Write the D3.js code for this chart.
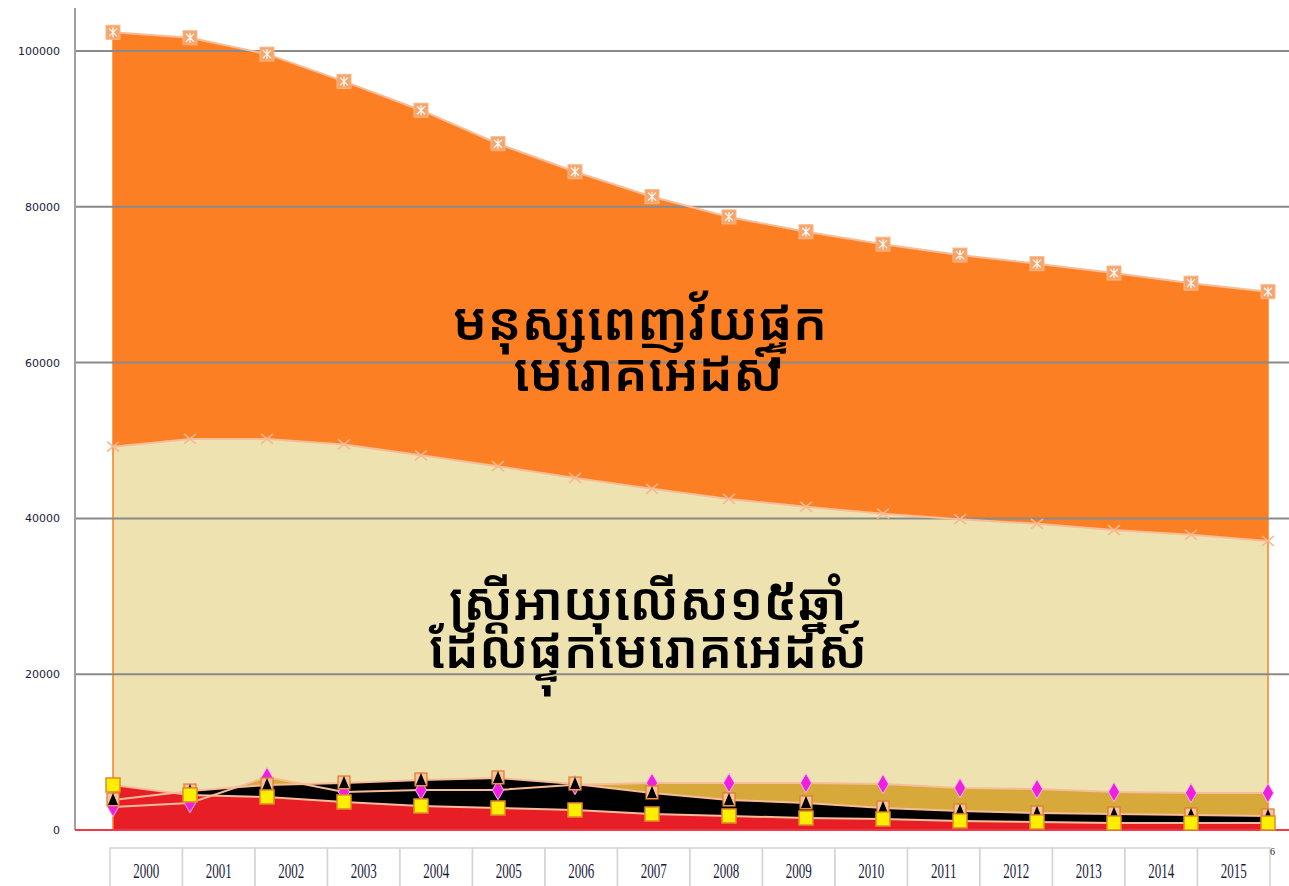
<!DOCTYPE html>
<html>
<head>
<meta charset="utf-8">
<script src="https://cdn.jsdelivr.net/npm/d3@7"></script>
<style>
  html, body { margin: 0; padding: 0; background: #fff; }
  svg { display: block; }
  .ytick text { font-family: "DejaVu Sans", sans-serif; font-size: 11px; fill: #1a1a3a; }
  .xlab { font-family: "Liberation Serif", serif; font-size: 21px; fill: #1a1a3a; }
  .note { font-family: "Noto Sans Khmer", "Khmer OS", "Khmer OS System", "Noto Serif Khmer", sans-serif; font-size: 52px; font-weight: 600; fill: #000; }
</style>
</head>
<body>
<svg id="chart" width="1289" height="886"></svg>
<script>
const years = d3.range(2000, 2016);
const yTicks = [0, 20000, 40000, 60000, 80000, 100000];

// adults living with HIV (orange)
const adults = [102400, 101700, 99600, 96100, 92400, 88100, 84500, 81300, 78700, 76800, 75200, 73800, 72700, 71500, 70200, 69100];
// women 15+ living with HIV (beige)
const women = [49200, 50200, 50200, 49500, 48100, 46700, 45200, 43800, 42500, 41500, 40600, 39900, 39300, 38500, 37900, 37100];
// goldenrod series, pink diamonds
const seriesDiamond = [2950, 3470, 6800, 4880, 5130, 5130, 5800, 6030, 6030, 6030, 5900, 5390, 5260, 4880, 4750, 4750];
// black series, triangles
const seriesTriangle = [3850, 5000, 5780, 6030, 6420, 6680, 5900, 4750, 3850, 3470, 2820, 2440, 2180, 2050, 1930, 1800];
// red series, yellow squares
const seriesSquare = [5780, 4500, 4240, 3600, 3080, 2820, 2570, 2050, 1800, 1540, 1410, 1160, 1030, 900, 900, 900];

const svg = d3.select('#chart');
const width = 1289;
const margin = { top: 8, left: 75 };

const x = d3.scalePoint().domain(years).range([113, 1268]);
const y = d3.scaleLinear().domain([0, 100000]).range([830, 51]);

// category boxes under the plot (label band a bit narrower than the point spacing)
const xb = d3.scaleBand().domain(years).range([110, 1270]);

const series = [
  { values: adults, fill: '#fd7f23', marker: 'asterisk' },
  { values: women, fill: '#ede2b0', marker: 'cross' },
  { values: seriesDiamond, fill: '#d6a93a', marker: 'diamond' },
  { values: seriesTriangle, fill: '#000000', marker: 'triangle' },
  { values: seriesSquare, fill: '#e81e26', marker: 'square' }
];

const area = d3.area()
  .x((d, i) => x(years[i]))
  .y0(y(0))
  .y1((d) => y(d));
const line = d3.line()
  .x((d, i) => x(years[i]))
  .y((d) => y(d));

const areasG = svg.append('g');
series.forEach((s) => {
  areasG.append('path').datum(s.values).attr('d', area).attr('fill', s.fill);
});

// vertical orange edges of the big area
const edgeG = svg.append('g');
[0, years.length - 1].forEach((i) => {
  edgeG.append('line')
    .attr('x1', x(years[i])).attr('x2', x(years[i]))
    .attr('y1', y(adults[i])).attr('y2', y(0))
    .attr('stroke', '#fd7f23').attr('stroke-width', 1.5);
});

// grid + y axis
const gridG = svg.append('g');
yTicks.filter((t) => t > 0).forEach((t) => {
  gridG.append('line')
    .attr('x1', margin.left).attr('x2', width)
    .attr('y1', y(t)).attr('y2', y(t))
    .attr('stroke', '#8a8a8a').attr('stroke-width', 2);
});
gridG.append('line')
  .attr('x1', margin.left).attr('x2', margin.left)
  .attr('y1', margin.top).attr('y2', y(0))
  .attr('stroke', '#a0a0a0').attr('stroke-width', 2);
gridG.append('line')
  .attr('x1', margin.left).attr('x2', width)
  .attr('y1', y(0)).attr('y2', y(0))
  .attr('stroke', '#ee3a48').attr('stroke-width', 2);

const yAxisG = svg.append('g').attr('class', 'ytick');
yAxisG.selectAll('text')
  .data(yTicks)
  .join('text')
  .attr('x', 60)
  .attr('y', (d) => y(d) + 4)
  .attr('text-anchor', 'end')
  .text((d) => d);

// edge lines
const linesG = svg.append('g');
series.forEach((s) => {
  linesG.append('path').datum(s.values).attr('d', line)
    .attr('fill', 'none').attr('stroke', '#f6bd98').attr('stroke-width', 2);
});

// markers
const markG = svg.append('g');
function drawMarker(g, kind, cx, cy) {
  if (kind === 'asterisk') {
    g.append('rect').attr('x', cx - 7).attr('y', cy - 7).attr('width', 14).attr('height', 14)
      .attr('fill', '#f8a46a').attr('stroke', '#f6b888');
    const p = `M${cx - 4},${cy - 4}L${cx + 4},${cy + 4}M${cx + 4},${cy - 4}L${cx - 4},${cy + 4}M${cx},${cy - 5}L${cx},${cy + 5}`;
    g.append('path').attr('d', p).attr('stroke', '#fff').attr('stroke-width', 1.2).attr('fill', 'none');
  } else if (kind === 'cross') {
    const p = `M${cx - 6},${cy - 5}L${cx + 6},${cy + 5}M${cx + 6},${cy - 5}L${cx - 6},${cy + 5}`;
    g.append('path').attr('d', p).attr('stroke', '#f8b890').attr('stroke-width', 1.6).attr('fill', 'none');
  } else if (kind === 'diamond') {
    g.append('path').attr('d', d3.symbol(d3.symbolDiamond, 110)())
      .attr('transform', `translate(${cx},${cy})`)
      .attr('fill', '#f020e0').attr('stroke', '#f8c0e8').attr('stroke-width', 1);
  } else if (kind === 'triangle') {
    g.append('rect').attr('x', cx - 6).attr('y', cy - 7).attr('width', 12).attr('height', 13)
      .attr('fill', '#f8c39a').attr('stroke', '#e07a2a').attr('stroke-width', 1.2);
    g.append('path').attr('d', `M${cx},${cy - 7}L${cx + 5},${cy + 5}L${cx - 5},${cy + 5}Z`)
      .attr('fill', '#000');
  } else if (kind === 'square') {
    g.append('rect').attr('x', cx - 7).attr('y', cy - 7).attr('width', 14).attr('height', 14)
      .attr('fill', '#ffee00').attr('stroke', '#e08a2a').attr('stroke-width', 1.5);
  }
}
series.forEach((s) => {
  s.values.forEach((v, i) => drawMarker(markG, s.marker, x(years[i]), y(v)));
});

// category boxes
const boxG = svg.append('g');
years.forEach((yr) => {
  const cx = xb(yr) + xb.bandwidth() / 2;
  boxG.append('rect')
    .attr('x', xb(yr)).attr('y', 848)
    .attr('width', xb.bandwidth()).attr('height', 50)
    .attr('fill', '#fff').attr('stroke', '#d4d4d4').attr('stroke-width', 1.5);
  boxG.append('text').attr('class', 'xlab')
    .attr('x', 0).attr('y', 878)
    .attr('text-anchor', 'middle')
    .attr('transform', `translate(${cx},0) scale(0.62,1)`)
    .text(yr);
});
svg.append('text').attr('class', 'xlab').attr('x', 1270).attr('y', 855)
  .style('font-size', '10px').text('6');

// annotations
const noteG = svg.append('g').attr('class', 'note').attr('text-anchor', 'middle');
noteG.append('text').attr('x', 640).attr('y', 340).text('មនុស្សពេញវ័យផ្ទុក');
noteG.append('text').attr('x', 648).attr('y', 391).text('មេរោគអេដស៍');
noteG.append('text').attr('x', 648).attr('y', 620).text('ស្ត្រីអាយុលើស១៥ឆ្នាំ');
noteG.append('text').attr('x', 648).attr('y', 668).text('ដែលផ្ទុកមេរោគអេដស៍');
</script>
</body>
</html>
